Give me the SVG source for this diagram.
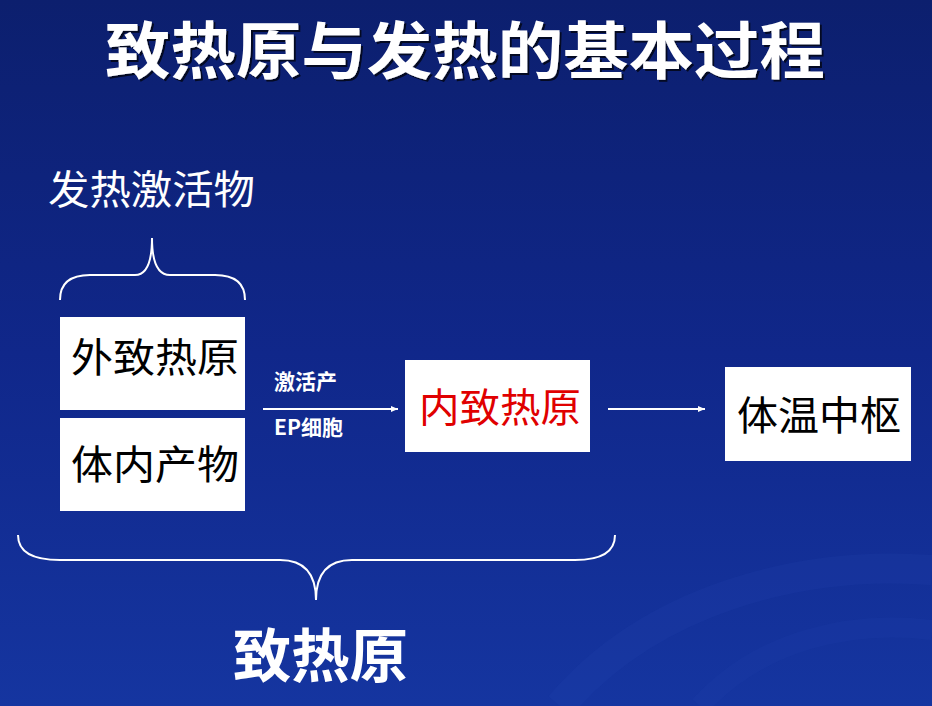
<svg xmlns="http://www.w3.org/2000/svg" width="932" height="706" viewBox="0 0 932 706">
<defs>
<linearGradient id="bg" x1="0" y1="0" x2="0" y2="1">
<stop offset="0" stop-color="#0c1f6e"/>
<stop offset="0.5" stop-color="#10278a"/>
<stop offset="1" stop-color="#1535a0"/>
</linearGradient>
<marker id="ah" markerWidth="8" markerHeight="8" refX="7" refY="4" orient="auto" markerUnits="userSpaceOnUse">
<path d="M0,1 L7,4 L0,7 Z" fill="#fff"/>
</marker>
<filter id="sh"><feDropShadow dx="2" dy="2" stdDeviation="0.5" flood-color="#000" flood-opacity="0.7"/></filter>
</defs>
<style>
.t{font-family:"Noto Sans CJK SC","Noto Sans",sans-serif;fill:#fff}
.box{fill:#fff}
.bt{font-family:"Noto Sans CJK SC",sans-serif;font-size:40px;fill:#000;text-anchor:middle}
.ln{stroke:#fff;stroke-width:2;fill:none}
</style>
<rect width="932" height="706" fill="url(#bg)"/>
<path d="M560,706 C650,600 800,560 932,570" stroke="#2a4bb5" stroke-width="30" fill="none" opacity="0.15"/>
<path d="M700,706 C760,640 850,620 932,630" stroke="#2a4bb5" stroke-width="20" fill="none" opacity="0.12"/>
<text class="t" x="105" y="74" font-size="62" font-weight="bold" textLength="720" lengthAdjust="spacingAndGlyphs" filter="url(#sh)">致热原与发热的基本过程</text>
<text class="t" x="48" y="204" font-size="40" textLength="207" lengthAdjust="spacingAndGlyphs">发热激活物</text>
<g id="conn">
<path class="ln" d="M60,300 Q60,275 90,275 L135,275 Q152,275 152,238 Q152,275 170,275 L215,275 Q245,275 245,300"/>
<path class="ln" d="M18,535 Q18,560 60,560 L280,560 Q316,560 316,600 Q316,560 352,560 L575,560 Q615,560 615,535"/>
<line class="ln" x1="263" y1="409" x2="398" y2="409" stroke-width="1.5" marker-end="url(#ah)"/>
<line class="ln" x1="608" y1="409" x2="705" y2="409" stroke-width="1.5" marker-end="url(#ah)"/>
</g>
<g id="n1"><rect class="box" x="60" y="317" width="185" height="93"/><text class="bt" x="155" y="372" textLength="168" lengthAdjust="spacingAndGlyphs">外致热原</text></g>
<g id="n2"><rect class="box" x="60" y="418" width="185" height="93"/><text class="bt" x="155" y="479" textLength="168" lengthAdjust="spacingAndGlyphs">体内产物</text></g>
<g id="lbl"><text class="t" x="274" y="389" font-size="21" font-weight="bold">激活产</text><text class="t" x="274" y="435" font-size="21" font-weight="bold">EP细胞</text></g>
<g id="n3"><rect class="box" x="405" y="360" width="185" height="92"/><text class="bt" x="500" y="422" style="fill:#e00000" textLength="162" lengthAdjust="spacingAndGlyphs">内致热原</text></g>
<g id="n4"><rect class="box" x="725" y="367" width="186" height="94"/><text class="bt" x="819" y="430" textLength="164" lengthAdjust="spacingAndGlyphs">体温中枢</text></g>
<text class="t" x="233" y="677" font-size="58" font-weight="bold" textLength="175" lengthAdjust="spacingAndGlyphs">致热原</text>
</svg>
